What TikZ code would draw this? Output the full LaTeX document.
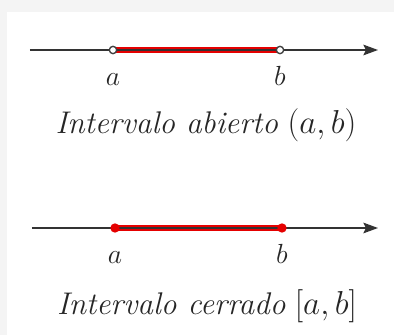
\documentclass[tikz,border=0pt]{standalone}
\usepackage{tikz}
\usetikzlibrary{arrows.meta, positioning}
\tikzset{
  axisline/.style={draw=black!80, line width=1.1pt,
                   -{Stealth[length=11pt, width=8pt, inset=2pt]}},
  segment/.style={draw=red!90!black, line width=3.8pt},
  openpt/.style={circle, draw=black!75, fill=white, line width=1pt,
                 minimum size=5.5pt, inner sep=0pt},
  closedpt/.style={circle, fill=red!90!black, minimum size=7pt, inner sep=0pt},
  lbl/.style={font=\fontsize{21}{24}\selectfont, text=black!85,
              anchor=base, inner sep=0pt},
  caption/.style={font=\fontsize{23.5}{26}\selectfont, text=black!85,
                  anchor=base, inner sep=0pt},
}
\begin{document}
\begin{tikzpicture}[x=0.75pt, y=-0.75pt]
  % page and its light grey frame
  \fill[gray!9] (0,0) rectangle (394,335);
  \fill[white] (7,12) rectangle (394,335);
  \useasboundingbox (0,0) rectangle (394,335);

  % open interval
  \coordinate (l1) at (30,50);
  \coordinate (r1) at (378,50);
  \coordinate (pa1) at (113,50);
  \coordinate (pb1) at (280,50);
  \draw[segment] (pa1) -- (pb1);
  \draw[axisline] (l1) -- (r1);
  \node[openpt] (a1) at (pa1) {};
  \node[openpt] (b1) at (pb1) {};
  \node[lbl] (la1) at ([yshift=-27pt]a1) {$a$};
  \node[lbl] (lb1) at ([yshift=-27pt]b1) {$b$};
  \node[caption] (t1) at (206,134) {\textit{Intervalo abierto} $(a,b)$};

  % closed interval
  \coordinate (l2) at (32,228);
  \coordinate (r2) at (378,228);
  \coordinate (pa2) at (115,228);
  \coordinate (pb2) at (282,228);
  \draw[segment] (pa2) -- (pb2);
  \draw[axisline] (l2) -- (r2);
  \node[closedpt] (a2) at (pa2) {};
  \node[closedpt] (b2) at (pb2) {};
  \node[lbl] (la2) at ([yshift=-27pt]a2) {$a$};
  \node[lbl] (lb2) at ([yshift=-27pt]b2) {$b$};
  \node[caption] (t2) at (207,315) {\textit{Intervalo cerrado} $[a,b]$};
\end{tikzpicture}
\end{document}
